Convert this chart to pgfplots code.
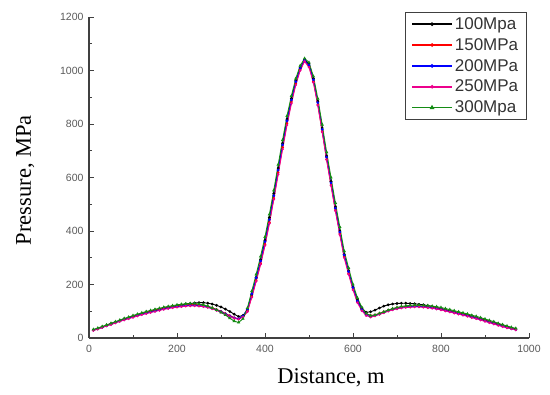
\documentclass[border=0pt]{standalone}
\usepackage{pgfplots}
\usepackage{pgfplotstable}
\pgfplotsset{compat=1.18}
\usepackage{fontspec}
\setmainfont{Liberation Serif}
\newfontfamily\arial{Liberation Sans}
\definecolor{tickgray}{HTML}{5A5A5A}
\definecolor{axgray}{HTML}{404040}
\definecolor{dgreen}{RGB}{20,140,20}
\pgfplotsset{limg/.style 2 args={legend image code/.code={\draw[draw=#1,fill=#1,mark=#2,mark options={draw=#1,fill=#1},mark repeat=2,mark phase=2,line width=1.7pt] plot coordinates {(0pt,0pt)(20pt,0pt)(40pt,0pt)};}}}
\pgfplotstableread{
x s100 s150 s200 s250 s300
10 30 30 29 28 32
20 35 35 34 33 37
30 41 41 40 39 43
40 47 47 46 45 49
50 53 53 52 50 55
60 59 59 58 56 61
70 65 65 63 62 67
80 71 71 69 67 73
90 76 76 74 72 78
100 81 81 79 77 84
110 86 86 84 82 89
120 91 91 89 87 94
130 96 96 93 91 99
140 100 100 97 95 103
150 104 104 101 99 107
160 108 108 105 103 111
170 112 112 109 107 115
180 115 115 112 110 118
190 118 118 115 113 121
200 121 120 117 115 124
210 124 122 119 117 126
220 127 124 121 119 128
230 129 125 122 120 129
240 131 125 122 120 129
250 132 124 121 119 127
260 132 122 119 117 124
270 130 118 116 114 119
280 127 113 111 109 113
290 122 107 105 103 105
300 116 100 98 96 96
310 108 92 90 88 86
320 99 84 82 80 74
330 89 76 75 73 63
340 80 72 72 70 58
350 84 80 82 78 72
360 105 100 108 98 112
370 162 155 165 152 175
380 225 215 225 212 238
390 292 278 288 275 305
400 365 350 360 346 378
410 450 432 442 428 462
420 540 522 532 518 552
430 635 618 628 612 648
440 728 712 722 706 740
450 818 802 812 796 830
460 895 882 890 876 905
470 962 952 958 946 970
480 1010 1004 1008 1000 1018
490 1040 1036 1038 1034 1045
500 1025 1015 1020 1012 1030
510 970 958 965 955 978
520 885 872 880 870 895
530 785 772 780 770 798
540 680 668 676 666 695
550 585 572 580 570 600
560 490 478 485 475 505
570 400 390 396 386 415
580 312 305 310 300 325
590 250 242 248 238 262
600 190 184 188 180 200
610 142 136 138 132 150
620 112 106 106 102 115
630 96 90 86 84 92
640 98 84 80 78 84
650 104 86 84 82 86
660 112 92 90 88 92
670 119 98 96 94 98
680 124 104 102 100 104
690 127 109 107 105 110
700 129 113 111 109 114
710 130 116 114 112 118
720 130 118 116 114 120
730 129 119 117 115 122
740 128 120 118 116 123
750 126 120 118 116 123
760 124 119 117 115 122
770 121 117 115 113 121
780 118 115 113 111 119
790 114 112 110 108 117
800 110 109 107 105 114
810 106 105 103 101 110
820 102 101 99 97 106
830 98 97 95 93 102
840 94 93 91 89 98
850 90 89 87 85 94
860 86 85 83 81 90
870 81 80 78 76 85
880 77 76 74 72 81
890 72 71 69 67 76
900 67 66 64 62 71
910 62 61 59 57 66
920 57 56 54 52 61
930 52 51 49 47 55
940 47 46 44 42 50
950 42 41 39 38 45
960 38 37 35 34 40
970 34 33 31 30 36
}\datatable
\begin{document}
\begin{tikzpicture}
\begin{axis}[
  at={(0,0)}, anchor=south west,
  scale only axis, width=440pt, height=321pt,
  xmin=0, xmax=1000, ymin=0, ymax=1200,
  axis lines=left, axis line style={-, axgray, line width=1.1pt},
  xtick={0,200,...,1000}, ytick={0,200,...,1200},
  minor tick num=1,
  tick align=inside,
  major tick length=5pt, minor tick length=3pt,
  tick style={axgray, line width=0.9pt},
  ticklabel style={font=\arial\fontsize{10.5}{12}\selectfont, text=tickgray},
  /pgf/number format/assume math mode=true,
  /pgf/number format/1000 sep={},
  xticklabel style={yshift=-4pt},
  yticklabel style={xshift=-2pt},
  xlabel={Distance, m}, ylabel={Pressure, MPa},
  label style={font=\fontsize{22.5}{26}\selectfont},
  xlabel style={at={(axis description cs:0.55,-0.125)}, anchor=center},
  ylabel style={at={(axis description cs:-0.145,0.492)}, anchor=center},
  legend style={at={(axis description cs:0.995,1.016)}, anchor=north east,
    draw=axgray, line width=1.2pt, font=\arial\fontsize{17}{19}\selectfont,
    text=black!80, inner xsep=6pt, inner ysep=3pt, row sep=3.5pt, cells={anchor=west}},
  every axis plot/.append style={line width=0.9pt},
]
\addplot[black, mark=*, mark size=0.9pt, limg={black}{*}] table[x=x,y=s100] {\datatable};
\addplot[red, mark=*, mark size=0.8pt, limg={red}{*}] table[x=x,y=s150] {\datatable};
\addplot[blue, mark=*, mark size=0.9pt, limg={blue}{*}] table[x=x,y=s200] {\datatable};
\addplot[magenta, mark=*, mark size=0.8pt, limg={magenta}{*}] table[x=x,y=s250] {\datatable};
\addplot[dgreen, mark=triangle*, mark size=1.1pt, limg={dgreen}{triangle*}] table[x=x,y=s300] {\datatable};
\legend{100Mpa,150MPa,200MPa,250MPa,300Mpa}
\end{axis}
\pgfresetboundingbox
\path (-89pt,-57pt) rectangle (461pt,338pt);
\end{tikzpicture}
\end{document}
